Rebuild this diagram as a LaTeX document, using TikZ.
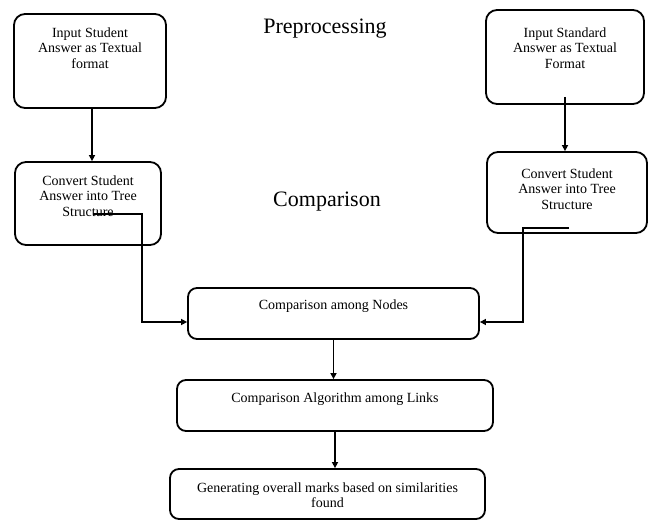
\documentclass[tikz,border=0pt]{standalone}
\usepackage{fontspec}
\setmainfont{Liberation Serif}
\usetikzlibrary{arrows.meta,positioning,calc}
\newcommand\flowfont{\fontsize{14}{15.5}\selectfont}
\newcommand\headfont{\fontsize{22}{26}\selectfont}

\begin{document}
\begin{tikzpicture}[
  x=1pt, y=-1pt,
  stepbox/.style={draw, line width=1.8pt, rounded corners=11pt, inner sep=0pt},
  boxtext/.style={anchor=north, align=center, font=\flowfont, inner sep=0pt},
  heading/.style={font=\headfont, inner sep=0pt},
  arr/.style={line width=1.5pt, -{Triangle[length=6pt,width=6pt]}}
]
  \useasboundingbox (0,0) rectangle (653,526);
  %% Headings
  \node[heading] (pre) at (325,29) {Preprocessing};
  \node[heading] (cmp) at (327,202) {Comparison};
  %% Student side
  \node[stepbox, minimum width=152pt, minimum height=94pt,
    label={[boxtext, yshift=-14pt]north:Input Student\\Answer as Textual\\format}] (inS) at (90,61) {};
  \node[stepbox, minimum width=146pt, minimum height=83pt,
    label={[boxtext, yshift=-14pt]north:Convert Student\\Answer into Tree\\Structure}] (cvS) at (88,203.5) {};
  %% Standard side
  \node[stepbox, minimum width=158pt, minimum height=94pt,
    label={[boxtext, yshift=-18pt]north:Input Standard\\Answer as Textual\\Format}] (inT) at (565,57) {};
  \node[stepbox, minimum width=160pt, minimum height=81pt,
    label={[boxtext, yshift=-17pt]north:Convert Student\\Answer into Tree\\Structure}] (cvT) at (567,192.5) {};
  %% Comparison chain
  \node[stepbox, rounded corners=9pt, minimum width=291pt, minimum height=51pt,
    label={[boxtext, yshift=-12pt]north:Comparison among Nodes}] (nodes) at (333.5,313.5) {};
  \node[stepbox, rounded corners=9pt, minimum width=316pt, minimum height=51pt,
    label={[boxtext, yshift=-13pt]north:Comparison Algorithm among Links}] (links) at (335,405.5) {};
  \node[stepbox, rounded corners=9pt, minimum width=315pt, minimum height=50pt,
    label={[boxtext, yshift=-14pt]north:Generating overall marks based on similarities\\found}] (marks) at (327.5,494) {};
  %% Connectors
  \coordinate (cvSout) at (93,214);
  \coordinate (cvTout) at (569,228);
  \coordinate (nodesL) at ([yshift=-8.5pt]nodes.west);
  \coordinate (nodesR) at ([yshift=-8.5pt]nodes.east);
  \draw[arr] ([xshift=2pt]inS.south) -- ([xshift=2pt]inS.south |- cvS.north);
  \draw[arr] ([yshift=8pt]inT.south) -- (inT.south |- cvT.north);
  \draw[arr] (cvSout) -- ++(49,0) |- (nodesL);
  \draw[arr] (cvTout) -- ++(-46,0) |- (nodesR);
  \draw[arr] (nodes.south) -- (nodes.south |- links.north);
  \draw[arr] (links.south) -- (links.south |- marks.north);
\end{tikzpicture}
\end{document}
